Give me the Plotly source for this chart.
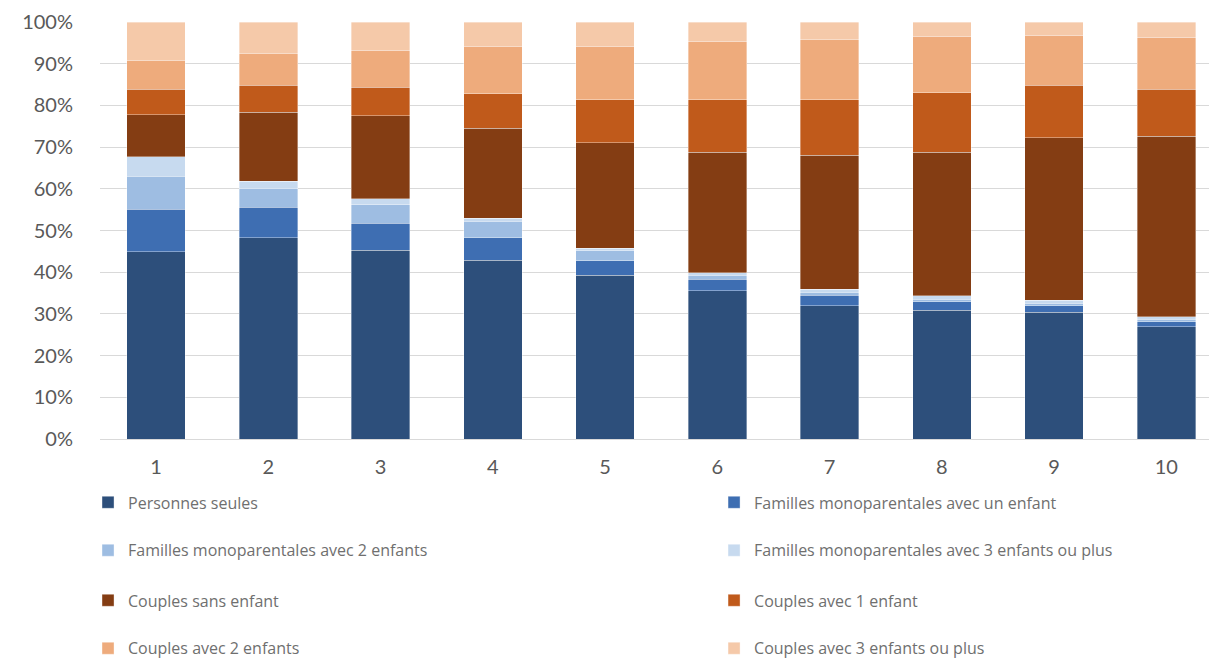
import plotly.graph_objects as go

# Déciles de niveau de vie
deciles = [1, 2, 3, 4, 5, 6, 7, 8, 9, 10]

# Part de chaque type de ménage par décile (en %)
personnes_seules = [44.9, 48.3, 45.3, 42.9, 39.3, 35.5, 31.9, 30.9, 30.4, 26.9]
mono_1_enfant = [10.2, 7.3, 6.4, 5.4, 3.4, 2.8, 2.6, 2.0, 1.5, 1.2]
mono_2_enfants = [7.9, 4.5, 4.5, 3.9, 2.4, 1.0, 0.7, 0.6, 0.6, 0.6]
mono_3_enfants_plus = [4.7, 1.7, 1.4, 0.7, 0.6, 0.6, 0.7, 0.8, 0.8, 0.6]
couples_sans_enfant = [10.1, 16.6, 19.9, 21.6, 25.3, 28.9, 32.1, 34.5, 38.9, 43.3]
couples_1_enfant = [6.1, 6.4, 6.8, 8.3, 10.4, 12.6, 13.4, 14.2, 12.6, 11.3]
couples_2_enfants = [6.8, 7.6, 8.9, 11.4, 12.8, 14.0, 14.4, 13.6, 12.0, 12.5]
couples_3_enfants_plus = [9.3, 7.6, 6.8, 5.8, 5.8, 4.6, 4.2, 3.4, 3.2, 3.6]

series_names = [
    "Personnes seules",
    "Familles monoparentales avec un enfant",
    "Familles monoparentales avec 2 enfants",
    "Familles monoparentales avec 3 enfants ou plus",
    "Couples sans enfant",
    "Couples avec 1 enfant",
    "Couples avec 2 enfants",
    "Couples avec 3 enfants ou plus",
]
series_values = [
    personnes_seules, mono_1_enfant, mono_2_enfants, mono_3_enfants_plus,
    couples_sans_enfant, couples_1_enfant, couples_2_enfants, couples_3_enfants_plus,
]
series_colors = [
    "#2d4f7b", "#3e6eb2", "#9ebde2", "#c7daef",
    "#843d13", "#c05a1b", "#eeab7c", "#f5c9a9",
]

fig = go.Figure()
for i, (name, values, color) in enumerate(zip(series_names, series_values, series_colors)):
    fig.add_trace(go.Bar(
        x=deciles,
        y=[v / 100 for v in values],
        name=name,
        marker=dict(color=color, line=dict(color="rgba(255,255,255,0.6)", width=0.6)),
        legend="legend" if i == 0 else f"legend{i + 1}",
    ))

font_family = "Lato, Carlito, 'Open Sans', sans-serif"
legend_font = dict(family="'Open Sans', sans-serif", size=16, color="#6f6f6f")

# Légende sur deux colonnes, quatre lignes, sous le graphique
col_x = [-0.0108, 0.5537]
row_y = [-0.152, -0.267, -0.387, -0.502]

legends = {}
for i in range(len(series_names)):
    key = "legend" if i == 0 else f"legend{i + 1}"
    legends[key] = dict(
        orientation="h",
        x=col_x[i % 2], xanchor="left",
        y=row_y[i // 2], yanchor="middle",
        font=legend_font,
        bgcolor="rgba(0,0,0,0)",
        itemclick=False, itemdoubleclick=False,
    )

fig.update_layout(
    barmode="stack",
    bargap=0.48,
    width=1209,
    height=659,
    margin=dict(l=100, r=0, t=22, b=220, autoexpand=False),
    plot_bgcolor="white",
    paper_bgcolor="white",
    font=dict(family=font_family, color="#595959"),
    showlegend=True,
    **legends,
)

fig.update_xaxes(
    range=[0.5, 10.38],
    tickmode="array",
    tickvals=deciles,
    ticktext=[str(d) for d in deciles],
    tickfont=dict(size=20, color="#595959"),
    showgrid=False,
    showline=False,
    zeroline=False,
    ticks="",
    ticklabelstandoff=14,
)

fig.update_yaxes(
    range=[0, 1],
    tickmode="array",
    tickvals=[i / 10 for i in range(11)],
    ticktext=[f"{i * 10}%" for i in range(11)],
    tickfont=dict(size=20, color="#595959"),
    showgrid=True,
    gridcolor="#d9d9d9",
    gridwidth=1,
    zeroline=True,
    zerolinecolor="#d9d9d9",
    zerolinewidth=1,
    showline=False,
    ticks="",
    ticklabelstandoff=26,
)

fig.write_html("out.html")
